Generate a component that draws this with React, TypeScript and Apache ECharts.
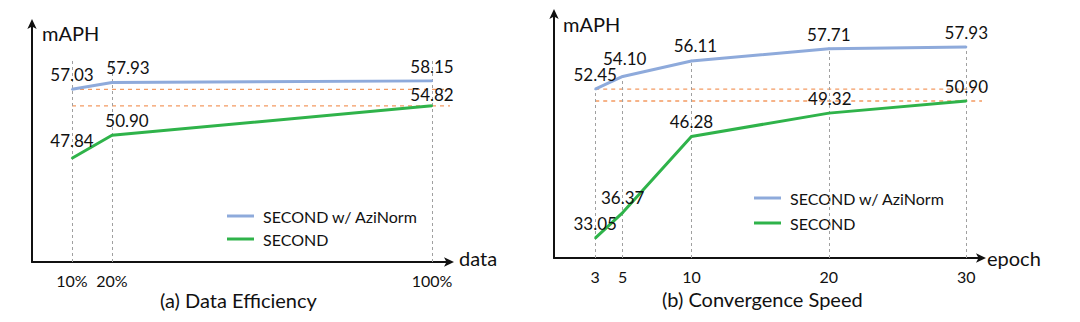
import React, { useEffect, useRef } from "react";
import * as echarts from "echarts";

// (a) Data Efficiency
const dataPct = [10, 20, 100];
const dataAzi = [57.03, 57.93, 58.15];
const dataSecond = [47.84, 50.9, 54.82];

// (b) Convergence Speed
const epochs = [3, 5, 10, 20, 30];
const epochAzi = [52.45, 54.1, 56.11, 57.71, 57.93];
const epochSecond = [33.05, 36.37, 46.28, 49.32, 50.9];

const seriesNames = ["SECOND w/ AziNorm", "SECOND"];
const subtitles = ["(a) Data Efficiency", "(b) Convergence Speed"];

const BLUE = "#8eaadb";
const GREEN = "#2fb34a";
const ORANGE = "#f39a62";
const GRAY = "#a0a0a0";
const TEXT = "#111";
const FONT = "Lato, 'Open Sans', sans-serif";

export default function App() {
  const ref = useRef<HTMLDivElement>(null);
  useEffect(() => {
    if (!ref.current) return;
    const chart = echarts.init(ref.current, undefined, { renderer: "svg" });

    const axisLine = {
      show: true,
      lineStyle: { color: "#111", width: 2 },
      symbol: ["none", "arrow"],
      symbolSize: [7, 10],
      symbolOffset: [0, 6],
    };

    const labelOffsetsABlue: number[][] = [
      [0, 0],
      [16, -1],
      [0, 0],
    ];
    const labelOffsetsAGreen: number[][] = [
      [0, -3],
      [15, 0],
      [0, 3],
    ];
    const labelOffsetsBBlue: number[][] = [
      [0, 0],
      [2, -3],
      [4, -1],
      [0, 0],
      [0, 0],
    ];
    const labelOffsetsBGreen: number[][] = [
      [0, 0],
      [0, -1],
      [0, 0],
      [1, 0],
      [0, 0],
    ];

    const mkData = (xs: number[], ys: number[], offs: number[][]) =>
      xs.map((x, i) => ({
        value: [x, ys[i]],
        label: { offset: offs[i] },
      }));

    const labelCommon = {
      show: true,
      position: "top" as const,
      distance: 5,
      fontSize: 17,
      color: TEXT,
      fontFamily: FONT,
      formatter: (p: any) => (p.value[1] as number).toFixed(2),
    };

    const vDash = { color: GRAY, type: [3, 3] as any, width: 1 };
    const hDash = { color: ORANGE, type: [4, 4] as any, width: 1.3 };

    const mainLine = (
      name: string,
      axis: number,
      xs: number[],
      ys: number[],
      offs: number[][],
      color: string,
      extra: any = {}
    ) => ({
      name,
      type: "line",
      xAxisIndex: axis,
      yAxisIndex: axis,
      data: mkData(xs, ys, offs),
      showSymbol: true,
      symbol: "circle",
      symbolSize: 2,
      clip: false,
      z: 5,
      lineStyle: { color, width: 3 },
      itemStyle: { color },
      label: labelCommon,
      emphasis: { disabled: true },
      ...extra,
    });

    const dashedRef = (axis: number, x0: number, x1: number, y: number) => ({
      name: "ref-" + axis + "-" + y,
      type: "line",
      xAxisIndex: axis,
      yAxisIndex: axis,
      data: [
        [x0, y],
        [x1, y],
      ],
      symbol: "none",
      showSymbol: false,
      clip: false,
      silent: true,
      z: 3,
      lineStyle: hDash,
      emphasis: { disabled: true },
    });

    const vLines = (xs: number[], y0: number, tops: number[]) => ({
      silent: true,
      symbol: "none",
      label: { show: false },
      emphasis: { disabled: true },
      lineStyle: vDash,
      data: xs.map((x, i) => [
        { coord: [x, y0], lineStyle: vDash },
        { coord: [x, tops[i]] },
      ]) as any,
    });

    const legendCommon = {
      data: seriesNames,
      orient: "vertical" as const,
      icon: "rect",
      itemWidth: 27,
      itemHeight: 3,
      textStyle: {
        fontSize: 16,
        color: TEXT,
        lineHeight: 20,
        padding: [0, 0, 0, 4],
        fontFamily: FONT,
      },
    };

    const option: any = {
      animation: false,
      backgroundColor: "#fff",
      textStyle: { fontFamily: FONT },
      grid: [
        { left: 32, top: 25, width: 416, height: 237 },
        { left: 554, top: 15, width: 426, height: 243 },
      ],
      xAxis: [
        {
          gridIndex: 0,
          type: "value",
          min: 0,
          max: 104,
          axisLine,
          axisTick: { show: false },
          splitLine: { show: false },
          axisLabel: {
            customValues: dataPct,
            formatter: (v: number) => `${v}%`,
            fontSize: 16,
            color: TEXT,
            margin: 10,
            fontFamily: FONT,
          },
        },
        {
          gridIndex: 1,
          type: "value",
          min: 0,
          max: 31,
          axisLine,
          axisTick: { show: false },
          splitLine: { show: false },
          axisLabel: {
            customValues: epochs,
            fontSize: 16,
            color: TEXT,
            margin: 10,
            fontFamily: FONT,
          },
        },
      ],
      yAxis: [
        {
          gridIndex: 0,
          type: "value",
          min: 34,
          max: 65.6,
          axisLine,
          axisTick: { show: false },
          axisLabel: { show: false },
          splitLine: { show: false },
        },
        {
          gridIndex: 1,
          type: "value",
          min: 30.45,
          max: 62.1,
          axisLine,
          axisTick: { show: false },
          axisLabel: { show: false },
          splitLine: { show: false },
        },
      ],
      legend: [
        { ...legendCommon, left: 222, top: 201, itemGap: 3 },
        { ...legendCommon, left: 749, top: 183, itemGap: 5 },
      ],
      series: [
        dashedRef(0, dataPct[0], 110, dataAzi[0]),
        dashedRef(0, dataPct[0], 110, dataSecond[2]),
        dashedRef(1, epochs[0], 33.1, epochAzi[0]),
        dashedRef(1, epochs[0], 33.1, epochSecond[4]),
        mainLine(seriesNames[0], 0, dataPct, dataAzi, labelOffsetsABlue, BLUE, {
          markLine: vLines(dataPct, 34, dataPct.map(() => 61)),
        }),
        mainLine(seriesNames[1], 0, dataPct, dataSecond, labelOffsetsAGreen, GREEN),
        mainLine(seriesNames[0], 1, epochs, epochAzi, labelOffsetsBBlue, BLUE, {
          markLine: vLines(epochs, 30.45, epochAzi),
        }),
        mainLine(seriesNames[1], 1, epochs, epochSecond, labelOffsetsBGreen, GREEN),
      ],
      graphic: [
        {
          type: "text",
          left: 42,
          top: 23,
          style: { text: "mAPH", fill: TEXT, font: `20px ${FONT}` },
        },
        {
          type: "text",
          left: 459,
          top: 248,
          style: { text: "data", fill: TEXT, font: `20px ${FONT}` },
        },
        {
          type: "text",
          left: 160,
          top: 290,
          style: { text: subtitles[0], fill: TEXT, font: `20px ${FONT}` },
        },
        {
          type: "text",
          left: 563,
          top: 14,
          style: { text: "mAPH", fill: TEXT, font: `20px ${FONT}` },
        },
        {
          type: "text",
          left: 987,
          top: 248,
          style: { text: "epoch", fill: TEXT, font: `20px ${FONT}` },
        },
        {
          type: "text",
          left: 662,
          top: 289,
          style: { text: subtitles[1], fill: TEXT, font: `20px ${FONT}` },
        },
      ],
    };

    chart.setOption(option);
    return () => chart.dispose();
  }, []);

  return (
    <div
      ref={ref}
      style={{ position: "absolute", left: 0, top: 0, width: 1080, height: 322 }}
    />
  );
}
